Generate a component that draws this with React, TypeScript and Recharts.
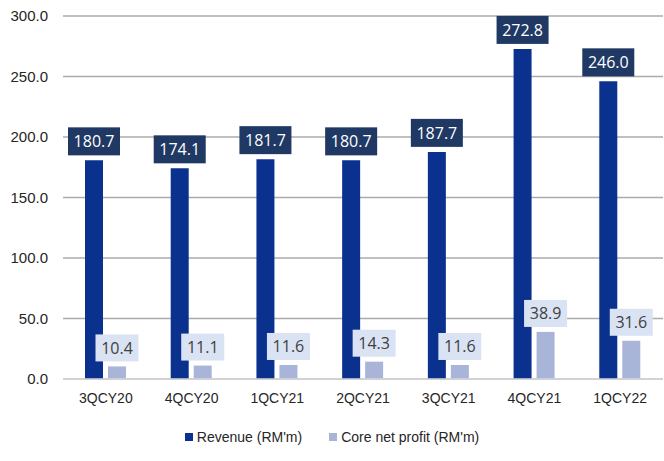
import React from 'react';
import { BarChart, Bar, XAxis, YAxis, CartesianGrid, Legend, LabelList } from 'recharts';

const categories = ['3QCY20', '4QCY20', '1QCY21', '2QCY21', '3QCY21', '4QCY21', '1QCY22'];
const revenue = [180.7, 174.1, 181.7, 180.7, 187.7, 272.8, 246.0];
const coreProfit = [10.4, 11.1, 11.6, 14.3, 11.6, 38.9, 31.6];
const yTicks = [0, 50, 100, 150, 200, 250, 300];
const seriesNames = ["Revenue (RM'm)", "Core net profit (RM'm)"];
const seriesColors = ['#0B318F', '#A9B4D9'];

const data = categories.map((c, i) => ({ name: c, revenue: revenue[i], profit: coreProfit[i] }));

const makeLabel = (bg: string, fg: string, w: number, h: number) => (props: any) => {
  const { x, y, width, value } = props;
  const cx = Number(x) + Number(width) / 2;
  const bottom = Number(y) - 5;
  return (
    <g>
      <rect x={cx - w / 2} y={bottom - h} width={w} height={h} fill={bg} />
      <text x={cx} y={bottom - h / 2} textAnchor="middle" dominantBaseline="central" fill={fg}
        style={{ fontFamily: '"Open Sans", "Liberation Sans", sans-serif', fontSize: 16 }}>
        {Number(value).toFixed(1)}
      </text>
    </g>
  );
};

const fontFamily = '"Liberation Sans", Arial, sans-serif';

const LegendContent = () => (
  <div style={{ display: 'flex', justifyContent: 'center', gap: 27, fontFamily, fontSize: 14, color: '#262626' }}>
    {seriesNames.map((n, i) => (
      <div key={n} style={{ display: 'flex', alignItems: 'center' }}>
        <span style={{ display: 'inline-block', width: 8, height: 8, background: seriesColors[i], marginRight: 4 }} />
        <span>{n}</span>
      </div>
    ))}
  </div>
);

export default function App() {
  return (
    <div style={{ position: 'absolute', left: 0, top: 0, width: 664, height: 461, background: '#fff' }}>
      <BarChart width={664} height={461} data={data}
        margin={{ top: 16, right: 1, left: 0, bottom: 34 }}
        barCategoryGap={22} barGap={5}>
        <CartesianGrid vertical={false} stroke="#ABABAB" strokeWidth={1.5} />
        <XAxis dataKey="name" tickLine={false} axisLine={{ stroke: '#D9D9D9', strokeWidth: 1.5 }} height={30}
          tickMargin={8} tick={{ fill: '#262626', fontSize: 14, fontFamily }} interval={0} />
        <YAxis width={63} domain={[0, 300]} ticks={yTicks} tickLine={false} axisLine={false}
          tickFormatter={(v: number) => v.toFixed(1)} tickMargin={9}
          tick={{ fill: '#262626', fontSize: 15, fontFamily }} />
        <Legend verticalAlign="bottom" content={<LegendContent />}
          wrapperStyle={{ position: 'absolute', top: 429, left: 0, width: 664, height: 18 }} />
        <Bar dataKey="revenue" name={seriesNames[0]} fill={seriesColors[0]} isAnimationActive={false}>
          <LabelList dataKey="revenue" content={makeLabel('#1F3864', '#FFFFFF', 52, 28)} />
        </Bar>
        <Bar dataKey="profit" name={seriesNames[1]} fill={seriesColors[1]} isAnimationActive={false}>
          <LabelList dataKey="profit" content={makeLabel('#DAE3F3', '#404040', 43, 27)} />
        </Bar>
      </BarChart>
    </div>
  );
}
